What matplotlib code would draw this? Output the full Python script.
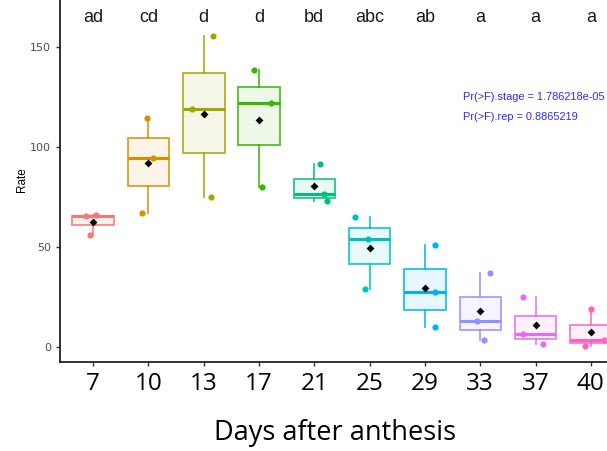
import numpy as np
import matplotlib
matplotlib.use("Agg")
import matplotlib.pyplot as plt
from matplotlib.colors import to_rgba

# stages (days after anthesis) and the three replicate rates per stage
days = ["7", "10", "13", "17", "21", "25", "29", "33", "37", "40"]
rep_values = [
    [65.7, 56.0, 65.8],
    [114.35, 94.35, 66.85],
    [155.65, 118.85, 75.15],
    [138.5, 121.85, 80.15],
    [91.35, 76.5, 73.0],
    [65.15, 53.85, 28.85],
    [51.0, 27.35, 10.15],
    [36.85, 13.15, 3.5],
    [25.15, 6.35, 1.5],
    [18.85, 3.5, 0.65],
]
letters = ["ad", "cd", "d", "d", "bd", "abc", "ab", "a", "a", "a"]
p_stage = "1.786218e-05"
p_rep = "0.8865219"

# horizontal jitter of the points (category units)
jitter = [
    [-0.13, -0.05, 0.05],
    [-0.02, 0.085, -0.11],
    [0.16, -0.22, 0.13],
    [-0.10, 0.21, 0.05],
    [0.11, 0.17, 0.23],
    [-0.27, -0.03, -0.08],
    [0.19, 0.19, 0.19],
    [0.18, -0.05, 0.07],
    [-0.23, -0.22, 0.14],
    [0.0, 0.24, -0.11],
]

# ggplot default hue palette for 10 groups
colors = ["#F8766D", "#D89000", "#A3A500", "#39B600", "#00BF7D",
          "#00BFC4", "#00B0F6", "#9590FF", "#E76BF3", "#FF62BC"]

W, H = 607, 451
fig = plt.figure(figsize=(W / 100, H / 100), dpi=100)
# panel runs off the right and top edges like the cropped original
left, right, bottom, top = 60, 624, 362, -9
ax = fig.add_axes([left / W, 1 - bottom / H, (right - left) / W, (bottom - top) / H])

pos = np.arange(1, len(days) + 1)

for i, vals in enumerate(rep_values):
    c = colors[i]
    bp = ax.boxplot([vals], positions=[pos[i]], widths=0.75, patch_artist=True,
                    showfliers=False, showcaps=False, whis=1.5)
    for b in bp["boxes"]:
        b.set_facecolor(to_rgba(c, 0.09))
        b.set_edgecolor(to_rgba(c, 0.85))
        b.set_linewidth(1.3)
    for w in bp["whiskers"]:
        w.set_color(to_rgba(c, 0.85))
        w.set_linewidth(1.3)
    for m in bp["medians"]:
        m.set_color(c)
        m.set_linewidth(2.2)
    ax.scatter(pos[i] + np.array(jitter[i]), vals, s=20, color=c, zorder=3,
               linewidths=0)
    ax.scatter([pos[i]], [np.mean(vals)], marker="D", s=16, color="black",
               zorder=4, linewidths=0)

ax.set_xlim(0.4, len(days) + 0.6)
ax.set_ylim(-7.5, 178)

for i, lab in enumerate(letters):
    ax.text(pos[i], 164.5, lab, ha="center", va="center", fontsize=13,
            family="Liberation Sans", color="#1a1a1a")

# p-value notes, placed in figure pixels (from top-left)
fig.text(463 / W, 1 - 97.5 / H, f"Pr(>F).stage = {p_stage}",
         fontsize=7.9, color="#2b2bff", family="Liberation Sans", va="center")
fig.text(463 / W, 1 - 116.5 / H, f"Pr(>F).rep = {p_rep}",
         fontsize=7.9, color="#2b2bff", family="Liberation Sans", va="center")

ax.set_yticks([0, 50, 100, 150])
ax.tick_params(axis="y", labelsize=8, labelcolor="#4d4d4d", color="#333333",
               length=3, width=1)
ax.set_xticks(pos)
ax.set_xticklabels(days, fontsize=17.5, family="Open Sans")
ax.tick_params(axis="x", color="#333333", length=3, width=1, pad=4.5)

ax.set_ylabel("Rate", fontsize=8.5, family="Liberation Sans")
ax.yaxis.set_label_coords(-(left - 28) / (right - left), 1 - (180 - top) / (bottom - top))
ax.set_xlabel("Days after anthesis", fontsize=19.5, family="Open Sans", va="center")
ax.xaxis.set_label_coords((335 - left) / (right - left), -(433 - bottom) / (bottom - top))

for s in ["top", "right"]:
    ax.spines[s].set_visible(False)
for s in ["left", "bottom"]:
    ax.spines[s].set_linewidth(1.3)
    ax.spines[s].set_color("#222222")

fig.savefig("out.png", dpi=100)
